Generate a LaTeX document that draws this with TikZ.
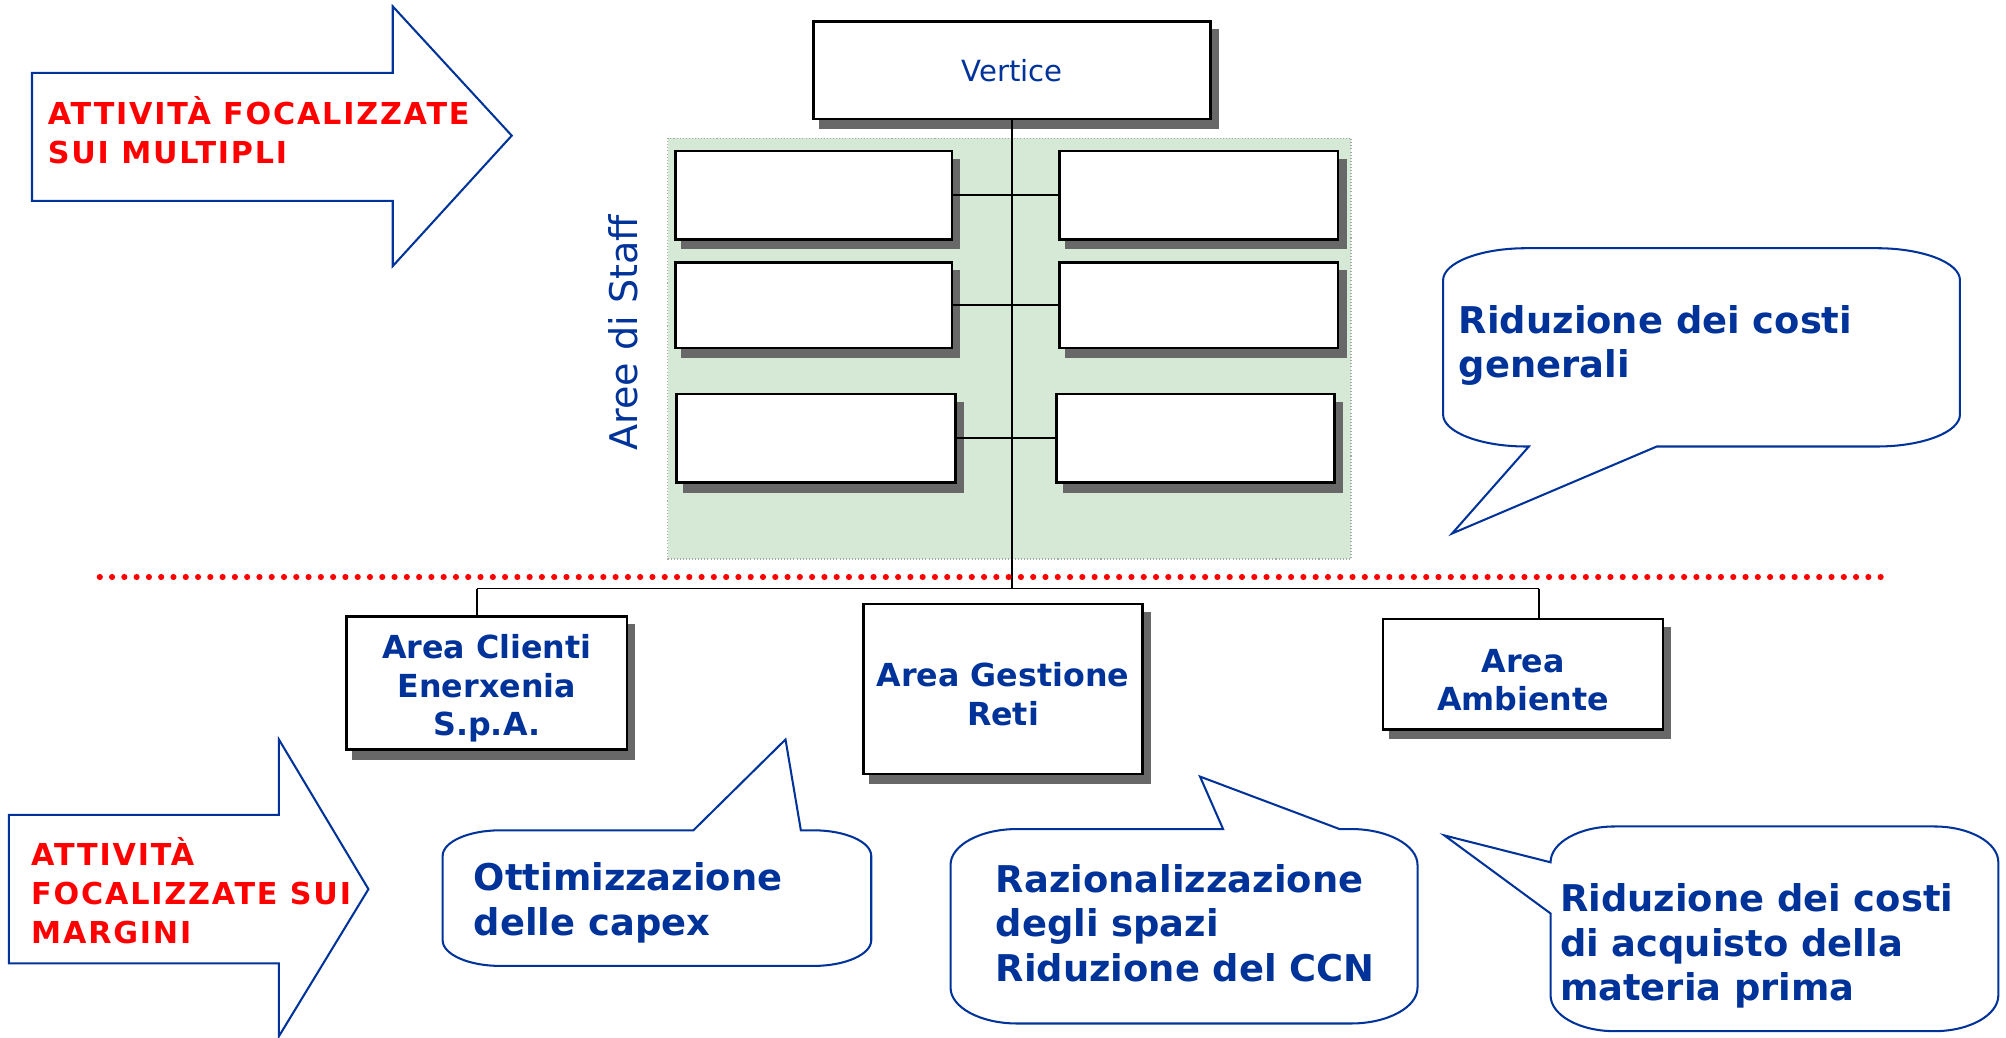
\documentclass[tikz,border=0pt]{standalone}
\usepackage{fontspec}
\setmainfont{DejaVu Sans}
\newfontfamily\redfam[LetterSpace=6]{DejaVu Sans}
\definecolor{tblue}{RGB}{0,51,153}
\definecolor{shadowgray}{RGB}{104,104,104}
\definecolor{stafffill}{RGB}{214,232,214}
\definecolor{staffborder}{RGB}{160,170,160}
\newcommand{\myboxfont}{\fontsize{12.4pt}{15pt}\selectfont\bfseries}
\newcommand{\mybubfont}{\fontsize{14.4pt}{17.5pt}\selectfont\bfseries}
\newcommand{\myredfont}{\redfam\fontsize{11.8pt}{15.2pt}\selectfont\bfseries}
\newcommand{\tpad}{\rule{0pt}{13.5pt}}
\begin{document}
\begin{tikzpicture}[x=0.5pt,y=-0.5pt,
  box/.style={draw=black,line width=1pt,fill=white,inner sep=0pt,align=center,text=tblue,font=\myboxfont,
    preaction={draw=shadowgray,fill=shadowgray,transform canvas={shift={(2.75pt,-3.5pt)}}}},
  conn/.style={draw=black,line width=0.75pt},
  barrow/.style={draw=tblue,line width=0.8pt,fill=white,line join=miter},
  bubble/.style={draw=tblue,line width=0.8pt,fill=white,line join=miter},
  btext/.style={anchor=north west,align=left,inner sep=0pt,text=tblue,font=\mybubfont},
  rtext/.style={anchor=north west,align=left,inner sep=0pt,text=red,font=\myredfont}]
\useasboundingbox (0,0) rectangle (1568,811);

% staff area
\fill[stafffill] (522,108) rectangle (1056,437);
\draw[staffborder,line width=0.5pt,dash pattern=on 0.4pt off 0.8pt] (522,108) rectangle (1056,437);
\node[rotate=90,inner sep=0pt,text=tblue,font=\fontsize{14.9pt}{16pt}\selectfont] (staff) at (487,260) {Aree di Staff};

% connector points
\coordinate (hj) at (791,460);
\coordinate (cd) at (373,460);
\coordinate (ad) at (1203,460);

% boxes
\node[box,minimum width=155pt,minimum height=38pt,font=\fontsize{11.4pt}{13pt}\selectfont] (vert) at (791,55) {Vertice};
\node[box,minimum width=108pt,minimum height=34.5pt] (sl1) at (636,152.5) {};
\node[box,minimum width=108pt,minimum height=33.5pt] (sl2) at (636,238.5) {};
\node[box,minimum width=109pt,minimum height=34.5pt] (sl3) at (638,342.5) {};
\node[box,minimum width=109pt,minimum height=34.5pt] (sr1) at (937,152.5) {};
\node[box,minimum width=109pt,minimum height=33.5pt] (sr2) at (937,238.5) {};
\node[box,minimum width=108.5pt,minimum height=34.5pt] (sr3) at (934.5,342.5) {};
\node[box,minimum width=109.5pt,minimum height=52pt] (clienti) at (380.5,534) {\tpad Area Clienti\\Enerxenia\\S.p.A.};
\node[box,minimum width=109pt,minimum height=66.5pt] (gestione) at (784,538.5) {\tpad Area Gestione\\Reti};
\node[box,minimum width=109.5pt,minimum height=43pt] (ambiente) at (1190.5,527) {\tpad Area\\Ambiente};

\draw[conn] (vert.south) -- (hj);
\draw[conn] (sl1.east) -- (sr1.west);
\draw[conn] (sl2.east) -- (sr2.west);
\draw[conn] (sl3.east) -- (sr3.west);
\draw[conn] (cd) -- (ad);
\draw[conn] (cd) -- (cd |- clienti.north);
\draw[conn] (ad) -- (ad |- ambiente.north);

% red dotted separator
\draw[red,line width=2.4pt,line cap=round,dash pattern=on 0pt off 4.8pt] (78,451) -- (1470,451);

% block arrows
\draw[barrow] (25,57) -- (307,57) -- (307,5) -- (400,106) -- (307,208) -- (307,157) -- (25,157) -- cycle;
\node[rtext] (a1t) at (37,75) {ATTIVITÀ FOCALIZZATE\\SUI MULTIPLI};
\draw[barrow] (7,637) -- (218,637) -- (218,578) -- (288,695) -- (218,810) -- (218,753) -- (7,753) -- cycle;
\node[rtext] (a2t) at (24,654) {ATTIVITÀ\\FOCALIZZATE SUI\\MARGINI};

% bubble 1
\draw[bubble] (1193,194) -- (1467,194) .. controls (1502.75,194) and (1532,205.25) .. (1532,219)
  -- (1532,324) .. controls (1532,337.75) and (1502.75,349) .. (1467,349)
  -- (1295,349) -- (1135,417) -- (1195,349) -- (1193,349)
  .. controls (1157.25,349) and (1128,337.75) .. (1128,324)
  -- (1128,219) .. controls (1128,205.25) and (1157.25,194) .. (1193,194) -- cycle;
\node[btext] (b1t) at (1140,238) {Riduzione dei costi\\generali};

% bubble 2
\draw[bubble] (391,649) -- (542,649) -- (614,578) -- (626,649) -- (636,649)
  .. controls (660.75,649) and (681,658) .. (681,669)
  -- (681,735) .. controls (681,746) and (660.75,755) .. (636,755)
  -- (391,755) .. controls (366.25,755) and (346,746) .. (346,735)
  -- (346,669) .. controls (346,658) and (366.25,649) .. (391,649) -- cycle;
\node[btext] (b2t) at (370,674) {Ottimizzazione\\delle capex};

% bubble 3
\draw[bubble] (795,648) -- (956,648) -- (938,607) -- (1047,648) -- (1056,648)
  .. controls (1084.6,648) and (1108,660.6) .. (1108,676)
  -- (1108,772) .. controls (1108,787.4) and (1084.6,800) .. (1056,800)
  -- (795,800) .. controls (766.4,800) and (743,787.4) .. (743,772)
  -- (743,676) .. controls (743,660.6) and (766.4,648) .. (795,648) -- cycle;
\node[btext] (b3t) at (778,675) {Razionalizzazione\\degli spazi\\Riduzione del CCN};

% bubble 4
\draw[bubble] (1262,646) -- (1512,646) .. controls (1539.5,646) and (1562,658.6) .. (1562,674)
  -- (1562,778) .. controls (1562,793.4) and (1539.5,806) .. (1512,806)
  -- (1262,806) .. controls (1234.5,806) and (1212,793.4) .. (1212,778)
  -- (1212,714) -- (1129,653) -- (1212,674)
  .. controls (1212,658.6) and (1234.5,646) .. (1262,646) -- cycle;
\node[btext] (b4t) at (1219,690) {Riduzione dei costi\\di acquisto della\\materia prima};
\end{tikzpicture}
\end{document}
